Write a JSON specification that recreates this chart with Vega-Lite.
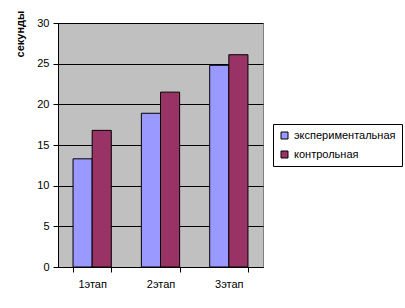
{
  "$schema": "https://vega.github.io/schema/vega-lite/v6.json",
  "autosize": "none",
  "width": 205,
  "height": 244,
  "padding": {"left": 58, "top": 23, "right": 142, "bottom": 41},
  "background": "white",
  "config": {
    "font": "Liberation Sans",
    "view": {"fill": "#C0C0C0", "stroke": "#808080", "strokeWidth": 1}
  },
  "data": {
    "values": [
      {"stage": "1этап", "group": "экспериментальная", "value": 13.3},
      {"stage": "1этап", "group": "контрольная", "value": 16.8},
      {"stage": "2этап", "group": "экспериментальная", "value": 18.9},
      {"stage": "2этап", "group": "контрольная", "value": 21.5},
      {"stage": "3этап", "group": "экспериментальная", "value": 24.8},
      {"stage": "3этап", "group": "контрольная", "value": 26.1}
    ]
  },
  "mark": {"type": "bar", "stroke": "black", "strokeWidth": 1},
  "encoding": {
    "x": {
      "field": "stage", "type": "nominal", "title": null,
      "scale": {"paddingInner": 0.44, "paddingOuter": 0.22},
      "axis": {
        "labelAngle": 0, "labelFontSize": 11, "labelColor": "black",
        "tickBand": "extent", "tickColor": "black", "tickSize": 5,
        "domainColor": "black", "labelPadding": 6
      }
    },
    "xOffset": {"field": "group", "type": "nominal", "sort": ["экспериментальная", "контрольная"]},
    "y": {
      "field": "value", "type": "quantitative",
      "scale": {"domain": [0, 30]},
      "axis": {
        "title": "секунды", "titleFontSize": 11, "titleFontWeight": "bold",
        "titleColor": "black", "titleAngle": -90, "titleAlign": "right",
        "titleBaseline": "middle", "titleX": -38, "titleY": -13,
        "values": [0, 5, 10, 15, 20, 25, 30],
        "labelFontSize": 11, "labelColor": "black", "labelPadding": 4,
        "tickColor": "black", "tickSize": 5, "domainColor": "black",
        "gridColor": "black", "grid": true, "gridWidth": 1
      }
    },
    "color": {
      "field": "group", "type": "nominal",
      "sort": ["экспериментальная", "контрольная"],
      "scale": {"domain": ["экспериментальная", "контрольная"], "range": ["#9999FF", "#993366"]},
      "legend": {
        "title": null, "orient": "none", "legendX": 215, "legendY": 101,
        "symbolType": "square", "symbolSize": 49, "symbolStrokeColor": "black",
        "symbolStrokeWidth": 1, "labelFontSize": 11, "labelColor": "black",
        "strokeColor": "black", "padding": 6, "rowPadding": 7, "fillColor": "white"
      }
    }
  }
}
